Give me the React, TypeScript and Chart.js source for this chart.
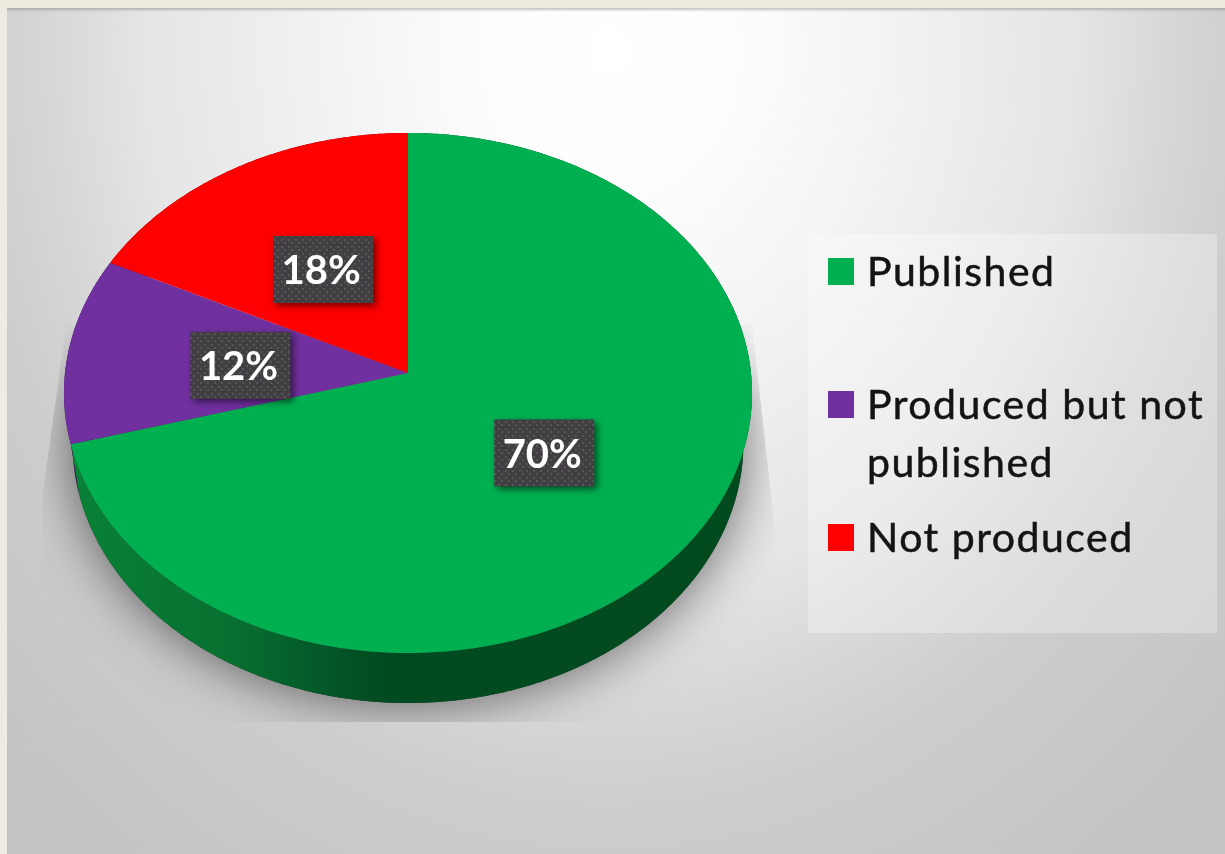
import React, { useEffect, useRef } from "react";
import { Chart, registerables } from "chart.js";

Chart.register(...registerables);

const categories = ["Published", "Produced but not published", "Not produced"];
const values = [70, 12, 18];
const sliceColors = ["#00B050", "#7030A0", "#FF0000"];
const legendLines = [["Published"], ["Produced but not", "published"], ["Not produced"]];
const FONT = "Lato, Carlito, 'Open Sans', sans-serif";

// Perspective projection of the unit disc on to the picture
const APEX_X = 408, APEX_Y = 373, RX = 343, RY = 258.5, K = 0.0769, DEPTH = 50, BASE_X = 0.975, WARP = 0.0325;
const project = (ux: number, uy: number): [number, number] => {
  const d = 1 + K * uy;
  return [APEX_X + (RX * ux) / d, APEX_Y - (RY * uy) / d];
};
const rimPoints = (a0: number, a1: number, lower = false) => {
  const pts: [number, number][] = [];
  const n = Math.max(2, Math.ceil((a1 - a0) / 0.01));
  for (let i = 0; i <= n; i++) {
    const a = a0 + ((a1 - a0) * i) / n;
    let t = -(a + Math.PI / 2);
    t = t - WARP * (1 - Math.cos(t)) * Math.sin(t);
    const [x, y] = project(-Math.sin(t), Math.cos(t));
    pts.push(lower ? [APEX_X + (x - APEX_X) * BASE_X, y + DEPTH] : [x, y]);
  }
  return pts;
};

const drawBackground = (ctx: CanvasRenderingContext2D, w: number, h: number) => {
  ctx.fillStyle = "#EEECE0";
  ctx.fillRect(0, 0, w, h);
  ctx.save();
  ctx.beginPath();
  ctx.rect(7, 8, w - 7, h - 8);
  ctx.clip();
  ctx.translate(610, 50);
  ctx.scale(1, 1 / 0.85);
  const g = ctx.createRadialGradient(0, 0, 0, 0, 0, 860);
  g.addColorStop(0, "#ffffff");
  g.addColorStop(0.17, "#fcfcfc");
  g.addColorStop(0.35, "#f1f1f1");
  g.addColorStop(0.54, "#e5e5e5");
  g.addColorStop(0.66, "#d6d6d6");
  g.addColorStop(0.75, "#cdcdcd");
  g.addColorStop(1, "#c4c4c4");
  ctx.fillStyle = g;
  ctx.fillRect(-700, -100, 1400, 1200);
  ctx.restore();
  const edge = ctx.createLinearGradient(0, 8, 0, 12);
  edge.addColorStop(0, "rgba(120,120,120,0.45)");
  edge.addColorStop(1, "rgba(120,120,120,0)");
  ctx.fillStyle = edge;
  ctx.fillRect(7, 8, w - 7, 4);
};

const drawShadow = (ctx: CanvasRenderingContext2D, w: number, h: number) => {
  const off = document.createElement("canvas");
  off.width = w;
  off.height = h;
  const c = off.getContext("2d")!;
  c.save();
  c.beginPath();
  c.moveTo(66, 325);
  c.lineTo(42, 500);
  c.lineTo(42, 722);
  c.lineTo(775, 722);
  c.lineTo(775, 530);
  c.lineTo(752, 325);
  c.closePath();
  c.clip();
  c.shadowColor = "rgba(0,0,0,0.8)";
  c.shadowBlur = 54;
  c.fillStyle = "#000";
  c.beginPath();
  const rim = [...rimPoints(0, Math.PI * 2, true)];
  rim.forEach(([x, y], i) => (i ? c.lineTo(x, y) : c.moveTo(x, y)));
  c.closePath();
  c.fill();
  c.restore();
  c.globalCompositeOperation = "destination-in";
  const fade = c.createLinearGradient(0, 325, 0, 400);
  fade.addColorStop(0, "rgba(0,0,0,0.3)");
  fade.addColorStop(1, "rgba(0,0,0,0.72)");
  c.fillStyle = fade;
  c.fillRect(0, 0, w, h);
  ctx.drawImage(off, 0, 0);
};

const dotPattern = (ctx: CanvasRenderingContext2D) => {
  const t = document.createElement("canvas");
  t.width = 7;
  t.height = 7;
  const c = t.getContext("2d")!;
  c.fillStyle = "#413f41";
  c.fillRect(0, 0, 7, 7);
  c.fillStyle = "#57555a";
  c.fillRect(1, 1, 2, 2);
  c.fillRect(4, 4, 2, 2);
  return ctx.createPattern(t, "repeat")!;
};

const piePlugin = {
  id: "perspectivePie",
  beforeDraw(chart: any) {
    drawBackground(chart.ctx, chart.width, chart.height);
  },
  beforeDatasetsDraw(chart: any) {
    const ctx: CanvasRenderingContext2D = chart.ctx;
    const arcs = chart.getDatasetMeta(0).data;
    drawShadow(ctx, chart.width, chart.height);

    const sideG = ctx.createLinearGradient(65, 0, 752, 0);
    sideG.addColorStop(0, "#0a8238");
    sideG.addColorStop(0.24, "#077030");
    sideG.addColorStop(0.39, "#035528");
    sideG.addColorStop(0.47, "#024a20");
    sideG.addColorStop(1, "#014a1e");
    const sides = [sideG, "#3c1a58", "#800000"];

    arcs.forEach((arc: any, i: number) => {
      const top = rimPoints(arc.startAngle, arc.endAngle);
      const low = rimPoints(arc.startAngle, arc.endAngle, true).reverse();
      ctx.beginPath();
      [...top, ...low].forEach(([x, y], j) => (j ? ctx.lineTo(x, y) : ctx.moveTo(x, y)));
      ctx.closePath();
      ctx.fillStyle = sides[i];
      ctx.fill();
    });
    arcs.forEach((arc: any, i: number) => {
      ctx.beginPath();
      ctx.moveTo(APEX_X, APEX_Y);
      rimPoints(arc.startAngle, arc.endAngle).forEach(([x, y]) => ctx.lineTo(x, y));
      ctx.closePath();
      ctx.fillStyle = sliceColors[i];
      ctx.fill();
    });
    return false;
  },
  afterDraw(chart: any) {
    const ctx: CanvasRenderingContext2D = chart.ctx;
    const arcs = chart.getDatasetMeta(0).data;
    const pattern = dotPattern(ctx);
    const labelOffsetX = [3, -7, -1];
    const labelOffsetY = [7, 0, -4];
    arcs.forEach((arc: any, i: number) => {
      const mid = (arc.startAngle + arc.endAngle) / 2;
      const [cx0, cy0] = project(0.47 * Math.cos(mid), -0.47 * Math.sin(mid));
      const cx = cx0 + labelOffsetX[i];
      const cy = cy0 + labelOffsetY[i];
      ctx.save();
      ctx.shadowColor = "rgba(0,0,0,0.55)";
      ctx.shadowBlur = 7;
      ctx.shadowOffsetX = 3;
      ctx.shadowOffsetY = 3;
      ctx.fillStyle = pattern;
      ctx.fillRect(cx - 50, cy - 33.5, 100, 67);
      ctx.restore();
      ctx.fillStyle = "#ffffff";
      ctx.font = `bold 40px ${FONT}`;
      ctx.textAlign = "center";
      ctx.textBaseline = "alphabetic";
      ctx.fillText(`${values[i]}%`, cx - 2, cy + 15);
    });

    // legend
    ctx.fillStyle = "rgba(255,255,255,0.3)";
    ctx.fillRect(808, 234, 409, 399);
    const markerTop = [258, 391, 524];
    const baselines = [[286], [419, 477], [552]];
    ctx.font = `41px ${FONT}`;
    ctx.textAlign = "left";
    (ctx as any).letterSpacing = "1.5px";
    categories.forEach((_, i) => {
      ctx.fillStyle = sliceColors[i];
      ctx.fillRect(828, markerTop[i], 26, 27);
      ctx.fillStyle = "#141414";
      ctx.strokeStyle = "#141414";
      ctx.lineWidth = 0.5;
      legendLines[i].forEach((line, j) => {
        ctx.fillText(line, 867, baselines[i][j]);
        ctx.strokeText(line, 867, baselines[i][j]);
      });
    });
    (ctx as any).letterSpacing = "0px";
  },
};

export default function App() {
  const ref = useRef<HTMLCanvasElement>(null);
  useEffect(() => {
    const chart = new Chart(ref.current!, {
      type: "pie",
      data: {
        labels: categories,
        datasets: [{ data: values, backgroundColor: sliceColors, borderWidth: 0 }],
      },
      options: {
        animation: false,
        responsive: false,
        plugins: { legend: { display: false }, tooltip: { enabled: false } },
      },
      plugins: [piePlugin],
    } as any);
    return () => chart.destroy();
  }, []);
  return (
    <canvas
      ref={ref}
      width={1225}
      height={854}
      style={{ position: "fixed", left: 0, top: 0, display: "block" }}
    />
  );
}
